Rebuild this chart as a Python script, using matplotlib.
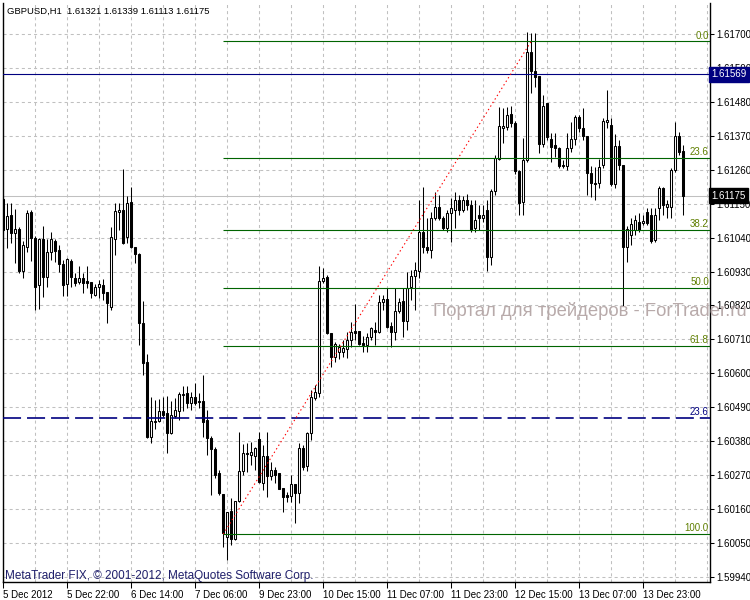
import numpy as np
import matplotlib
matplotlib.use("Agg")
import matplotlib.pyplot as plt
from matplotlib.transforms import blended_transform_factory

plt.rcParams['font.family'] = ['Liberation Sans', 'DejaVu Sans']
plt.rcParams['lines.scale_dashes'] = False

# GBPUSD H1 bars
opens = [1.61165, 1.61068, 1.61113, 1.61055, 1.61068, 1.60932, 1.61010, 1.61123, 1.61039, 1.60887,
         1.61036, 1.60912, 1.60994, 1.61029, 1.61000, 1.60955, 1.60890, 1.60964, 1.60909, 1.60896,
         1.60909, 1.60900, 1.60896, 1.60854, 1.60880, 1.60887, 1.60864, 1.60815, 1.61036, 1.61123,
         1.61130, 1.61042, 1.61155, 1.61010, 1.60987, 1.60764, 1.60637, 1.60394, 1.60443, 1.60446,
         1.60478, 1.60472, 1.60407, 1.60462, 1.60478, 1.60530, 1.60537, 1.60504, 1.60524, 1.60511,
         1.60511, 1.60449, 1.60391, 1.60355, 1.60278, 1.60209, 1.60070, 1.60154, 1.60064, 1.60187,
         1.60284, 1.60342, 1.60336, 1.60333, 1.60388, 1.60245, 1.60333, 1.60268, 1.60287, 1.60278,
         1.60229, 1.60206, 1.60203, 1.60242, 1.60213, 1.60358, 1.60300, 1.60407, 1.60520, 1.60537,
         1.60900, 1.60912, 1.60731, 1.60653, 1.60670, 1.60670, 1.60679, 1.60708, 1.60738, 1.60738,
         1.60699, 1.60692, 1.60718, 1.60741, 1.60734, 1.60832, 1.60841, 1.60754, 1.60734, 1.60802,
         1.60835, 1.60770, 1.60880, 1.60916, 1.60932, 1.61058, 1.61010, 1.61000, 1.61104, 1.61139,
         1.61104, 1.61071, 1.61120, 1.61130, 1.61162, 1.61130, 1.61162, 1.61146, 1.61071, 1.61113,
         1.61104, 1.61130, 1.60977, 1.61191, 1.61295, 1.61395, 1.61398, 1.61441, 1.61411, 1.61256,
         1.61155, 1.61292, 1.61642, 1.61580, 1.61564, 1.61343, 1.61476, 1.61360, 1.61340, 1.61330,
         1.61275, 1.61272, 1.61330, 1.61360, 1.61431, 1.61395, 1.61369, 1.61249, 1.61217, 1.61217,
         1.61275, 1.61415, 1.61405, 1.61214, 1.61337, 1.61275, 1.61010, 1.61049, 1.61065, 1.61091,
         1.61088, 1.61123, 1.61113, 1.61032, 1.61136, 1.61201, 1.61139, 1.61139, 1.61259, 1.61369,
         1.61321]
highs = [1.61172, 1.61152, 1.61152, 1.61133, 1.61075, 1.61029, 1.61130, 1.61130, 1.61045, 1.61039,
         1.61078, 1.61036, 1.61058, 1.61036, 1.61016, 1.60968, 1.60974, 1.60971, 1.60925, 1.60948,
         1.60925, 1.60948, 1.60896, 1.60890, 1.60903, 1.60906, 1.60864, 1.61075, 1.61152, 1.61152,
         1.61262, 1.61175, 1.61204, 1.61010, 1.60990, 1.60835, 1.60663, 1.60524, 1.60514, 1.60517,
         1.60524, 1.60527, 1.60511, 1.60520, 1.60540, 1.60559, 1.60559, 1.60540, 1.60569, 1.60537,
         1.60595, 1.60482, 1.60397, 1.60362, 1.60287, 1.60209, 1.60151, 1.60196, 1.60187, 1.60410,
         1.60371, 1.60375, 1.60378, 1.60362, 1.60410, 1.60368, 1.60410, 1.60313, 1.60297, 1.60278,
         1.60229, 1.60216, 1.60271, 1.60242, 1.60375, 1.60368, 1.60410, 1.60546, 1.60563, 1.60948,
         1.60942, 1.60919, 1.60731, 1.60702, 1.60695, 1.60708, 1.60734, 1.60767, 1.60825, 1.60738,
         1.60721, 1.60731, 1.60751, 1.60767, 1.60854, 1.60854, 1.60877, 1.60767, 1.60877, 1.60844,
         1.60877, 1.60929, 1.60935, 1.60961, 1.61162, 1.61204, 1.61104, 1.61123, 1.61188, 1.61178,
         1.61110, 1.61130, 1.61168, 1.61188, 1.61178, 1.61175, 1.61181, 1.61162, 1.61162, 1.61146,
         1.61146, 1.61162, 1.61198, 1.61308, 1.61463, 1.61460, 1.61463, 1.61467, 1.61418, 1.61259,
         1.61363, 1.61706, 1.61703, 1.61703, 1.61564, 1.61502, 1.61476, 1.61379, 1.61379, 1.61334,
         1.61292, 1.61379, 1.61415, 1.61437, 1.61437, 1.61460, 1.61369, 1.61272, 1.61269, 1.61295,
         1.61428, 1.61518, 1.61428, 1.61376, 1.61356, 1.61275, 1.61078, 1.61104, 1.61113, 1.61120,
         1.61113, 1.61136, 1.61136, 1.61136, 1.61207, 1.61204, 1.61162, 1.61266, 1.61415, 1.61382,
         1.61339]
lows = [1.61058, 1.61006, 1.61023, 1.60958, 1.60925, 1.60909, 1.60994, 1.60964, 1.60806, 1.60809,
        1.60848, 1.60880, 1.60968, 1.60961, 1.60929, 1.60851, 1.60851, 1.60880, 1.60883, 1.60890,
        1.60861, 1.60877, 1.60844, 1.60851, 1.60844, 1.60838, 1.60764, 1.60806, 1.60984, 1.61065,
        1.61019, 1.61023, 1.61006, 1.60958, 1.60692, 1.60595, 1.60391, 1.60375, 1.60420, 1.60443,
        1.60459, 1.60342, 1.60404, 1.60456, 1.60449, 1.60478, 1.60488, 1.60482, 1.60498, 1.60488,
        1.60394, 1.60336, 1.60206, 1.60261, 1.60206, 1.60038, 1.59996, 1.60044, 1.60060, 1.60184,
        1.60271, 1.60281, 1.60303, 1.60287, 1.60245, 1.60222, 1.60200, 1.60255, 1.60245, 1.60226,
        1.60151, 1.60184, 1.60184, 1.60115, 1.60180, 1.60287, 1.60284, 1.60384, 1.60514, 1.60524,
        1.60893, 1.60728, 1.60621, 1.60637, 1.60647, 1.60653, 1.60650, 1.60686, 1.60708, 1.60692,
        1.60670, 1.60670, 1.60708, 1.60692, 1.60731, 1.60806, 1.60747, 1.60686, 1.60708, 1.60796,
        1.60718, 1.60741, 1.60838, 1.60806, 1.60909, 1.60990, 1.60990, 1.60974, 1.61097, 1.61097,
        1.61065, 1.61058, 1.61026, 1.61071, 1.61113, 1.61123, 1.61130, 1.61058, 1.61058, 1.61065,
        1.61091, 1.60932, 1.60951, 1.61178, 1.61292, 1.61347, 1.61389, 1.61398, 1.61246, 1.61113,
        1.61113, 1.61285, 1.61509, 1.61528, 1.61314, 1.61334, 1.61356, 1.61285, 1.61301, 1.61266,
        1.61266, 1.61259, 1.61318, 1.61340, 1.61382, 1.61356, 1.61178, 1.61172, 1.61162, 1.61201,
        1.61266, 1.61395, 1.61207, 1.61201, 1.61259, 1.60819, 1.60961, 1.61016, 1.61049, 1.61058,
        1.61081, 1.61081, 1.61023, 1.61026, 1.61097, 1.61113, 1.61104, 1.61104, 1.61253, 1.61308,
        1.61113]
closes = [1.61065, 1.61110, 1.61055, 1.61068, 1.60932, 1.61016, 1.61120, 1.61039, 1.60880, 1.61036,
          1.60912, 1.60994, 1.61036, 1.60997, 1.60955, 1.60887, 1.60971, 1.60912, 1.60893, 1.60909,
          1.60893, 1.60893, 1.60861, 1.60880, 1.60890, 1.60861, 1.60828, 1.61042, 1.61126, 1.61130,
          1.61023, 1.61152, 1.61010, 1.60987, 1.60764, 1.60634, 1.60394, 1.60446, 1.60446, 1.60478,
          1.60465, 1.60407, 1.60465, 1.60482, 1.60533, 1.60533, 1.60504, 1.60524, 1.60504, 1.60508,
          1.60443, 1.60391, 1.60355, 1.60271, 1.60213, 1.60083, 1.60151, 1.60064, 1.60187, 1.60284,
          1.60342, 1.60339, 1.60346, 1.60358, 1.60248, 1.60333, 1.60268, 1.60287, 1.60271, 1.60226,
          1.60200, 1.60200, 1.60242, 1.60213, 1.60358, 1.60297, 1.60407, 1.60524, 1.60540, 1.60900,
          1.60909, 1.60731, 1.60653, 1.60695, 1.60686, 1.60682, 1.60708, 1.60734, 1.60731, 1.60695,
          1.60692, 1.60718, 1.60747, 1.60734, 1.60832, 1.60841, 1.60751, 1.60734, 1.60802, 1.60832,
          1.60770, 1.60877, 1.60916, 1.60935, 1.61058, 1.61010, 1.61000, 1.61104, 1.61139, 1.61104,
          1.61071, 1.61120, 1.61136, 1.61162, 1.61130, 1.61162, 1.61146, 1.61065, 1.61097, 1.61104,
          1.61113, 1.60977, 1.61191, 1.61298, 1.61402, 1.61402, 1.61437, 1.61411, 1.61256, 1.61152,
          1.61292, 1.61642, 1.61580, 1.61561, 1.61343, 1.61467, 1.61366, 1.61334, 1.61330, 1.61272,
          1.61272, 1.61330, 1.61360, 1.61431, 1.61395, 1.61369, 1.61249, 1.61217, 1.61214, 1.61269,
          1.61418, 1.61421, 1.61214, 1.61337, 1.61275, 1.61010, 1.61068, 1.61084, 1.61097, 1.61065,
          1.61094, 1.61088, 1.61029, 1.61113, 1.61201, 1.61146, 1.61149, 1.61259, 1.61369, 1.61318,
          1.61175]

date_labels = ['5 Dec 2012', '5 Dec 22:00', '6 Dec 14:00', '7 Dec 06:00', '9 Dec 23:00',
               '10 Dec 15:00', '11 Dec 07:00', '11 Dec 23:00', '12 Dec 15:00', '13 Dec 07:00',
               '13 Dec 23:00']
date_bars = [0, 16, 32, 48, 64, 80, 96, 112, 128, 144, 160]

price_ticks = [1.59940, 1.60050, 1.60160, 1.60270, 1.60380, 1.60490, 1.60600, 1.60710, 1.60820,
               1.60930, 1.61040, 1.61150, 1.61260, 1.61370, 1.61480, 1.61590, 1.61700]

# Fibonacci retracement drawn on the chart
fib_pcts = [0.0, 23.6, 38.2, 50.0, 61.8, 100.0]
fib_high = 1.61676
fib_low = 1.60079
fib_low_bar = 55
fib_high_bar = 132

hline_price = 1.61569
dashed_price = 1.60455
last_price = 1.61175

o = np.array(opens)
h = np.array(highs)
l = np.array(lows)
c = np.array(closes)
x = np.arange(len(o))
up = c >= o

fig = plt.figure(figsize=(7.5, 6), dpi=100)
ax = fig.add_axes([3 / 750, 18 / 600, 707 / 750, 579 / 600])
x_max = 176.7
ax.set_xlim(-0.075, x_max)
ax.set_ylim(1.59924, 1.61800)

# grid
ax.set_axisbelow(True)
ax.set_xticks(date_bars)
ax.set_xticks(np.arange(0, 177, 8), minor=True)
ax.set_xticklabels(date_labels, ha='left')
ax.set_yticks(price_ticks)
ax.set_yticklabels(['%.5f' % p for p in price_ticks])
ax.grid(True, which='both', color='#c0c0c0', linestyle=(0, (2.2, 2.2)), linewidth=0.75)

ax.yaxis.tick_right()
ax.tick_params(axis='y', direction='out', length=3, width=0.75, pad=1.5, labelsize=7)
ax.tick_params(axis='x', which='major', direction='out', length=4, width=0.75, pad=2, labelsize=7)
ax.tick_params(axis='x', which='minor', length=0)
for s in ['left', 'bottom', 'right']:
    ax.spines[s].set_linewidth(1)
ax.spines['top'].set_visible(False)

# horizontal lines
ax.axhline(last_price, color='#c0c0c0', linewidth=0.75, zorder=1.5)
ax.axhline(hline_price, color='#000080', linewidth=0.8, zorder=5)
ax.axhline(dashed_price, color='#000080', linewidth=1.2, linestyle=(0, (13, 4.3)), zorder=5)
ax.annotate('23.6', (176.4, dashed_price), xytext=(0, 0.5), textcoords='offset points',
            ha='right', va='bottom', fontsize=7, color='#000080', zorder=6)

# candles
ax.vlines(x, l, h, color='black', linewidth=0.75, zorder=3)
ax.bar(x[up], (c - o)[up], bottom=o[up], width=0.5, facecolor='white',
       edgecolor='black', linewidth=0.75, zorder=4)
ax.bar(x[~up], (o - c)[~up], bottom=c[~up], width=0.5, facecolor='black',
       edgecolor='black', linewidth=0.75, zorder=4)

# fibonacci
fib_prices = [fib_high - p / 100 * (fib_high - fib_low) for p in fib_pcts]
ax.hlines(fib_prices, fib_low_bar, x_max, color='#006400', linewidth=0.8, zorder=5)
for p, lvl in zip(fib_pcts, fib_prices):
    ax.annotate('%.1f' % p, (176.4, lvl), xytext=(0, 0.5), textcoords='offset points',
                ha='right', va='bottom', fontsize=7, color='#5f7f00', zorder=6)
ax.plot([fib_low_bar, fib_high_bar], [fib_low, fib_high], color='red', linewidth=0.8,
        linestyle=(0, (1, 2)), zorder=6)

# price boxes on the right scale
trans = blended_transform_factory(ax.transAxes, ax.transData)
ax.text(1.0025, hline_price, '%.5f' % hline_price, transform=trans, color='white', fontsize=7,
        ha='left', va='center', clip_on=False, zorder=10,
        bbox=dict(boxstyle='square,pad=0.25', fc='#000080', ec='#000080'))
ax.text(1.0025, last_price, '%.5f' % last_price, transform=trans, color='white', fontsize=7,
        ha='left', va='center', clip_on=False, zorder=10,
        bbox=dict(boxstyle='square,pad=0.25', fc='black', ec='black'))

# texts
fig.text(7 / 750, 1 - 11 / 600, 'GBPUSD,H1  %.5f %.5f %.5f %.5f' % (opens[-1], highs[-1], lows[-1], closes[-1]),
         fontsize=6.8, va='center', ha='left')
fig.text(5 / 750, 1 - 576 / 600, 'MetaTrader FIX, \u00a9 2001-2012, MetaQuotes Software Corp.',
         fontsize=8.5, va='center', ha='left', color='#1f1f6b')
fig.text(433 / 750, 1 - 311 / 600, 'Портал для трейдеров - ForTrader.ru',
         fontsize=13.3, va='center', ha='left', color='#b8aaaa', zorder=0)

fig.savefig('out.png', dpi=100)
